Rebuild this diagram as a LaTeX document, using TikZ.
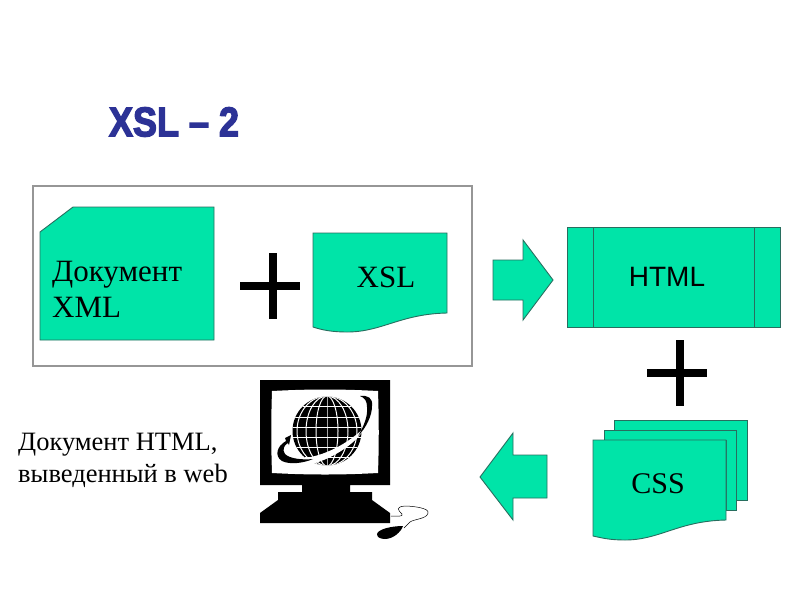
\documentclass[tikz,border=0pt]{standalone}
\usepackage{fontspec}
\setmainfont{Liberation Serif}
\newfontfamily\arialfont{Liberation Sans}
\newfontfamily\titlefont[FakeBold=3.5]{Liberation Sans Bold}
\usepackage{xcolor}
\usetikzlibrary{calc}
\definecolor{shapegreen}{RGB}{0,228,168}
\definecolor{edgegreen}{RGB}{40,110,95}
\definecolor{framegrey}{RGB}{150,150,150}
\definecolor{titleblue}{RGB}{44,50,150}
\tikzset{
  greenshape/.style={fill=shapegreen,draw=edgegreen,line width=0.9pt,line join=miter},
  plusbar/.style={fill=black,draw=none},
  seriflabel/.style={inner sep=0pt,align=left,anchor=north west},
}
\newcommand{\plusmark}[2]{%
  \fill[plusbar] (#1-30,#2-4)--(#1+30,#2-4)--(#1+30,#2+4)--(#1-30,#2+4)--cycle;
  \fill[plusbar] (#1-1,#2-33)--(#1+7,#2-33)--(#1+7,#2+33)--(#1-1,#2+33)--cycle;}
\begin{document}
\begin{tikzpicture}[x=1pt,y=-1pt]
  \useasboundingbox (0,0) rectangle (800,600);
  \fill[white] (0,0) rectangle (800,600);
  % title
  \node[font=\titlefont\fontsize{36}{40}\selectfont,text=titleblue,inner sep=0pt,yscale=1.15,transform shape] (title) at (174,122) {XSL – 2};
  % frame
  \draw[framegrey,line width=1.1pt] (33,186) rectangle (472,366);
  % XML card
  \draw[greenshape] (40,232)--(73,207)--(214,207)--(214,340)--(40,340)--cycle;
  \node[seriflabel,font=\fontsize{31}{36}\selectfont] (xmllabel) at (52,261) {Документ\\XML};
  \plusmark{270}{286}
  % XSL document
  \draw[greenshape] (313,233)--(447,233)--(447,313)
    .. controls (400,314) and (382,332) .. (347,332)
    .. controls (332,332) and (322,330) .. (313,327)--cycle;
  \node[font=\fontsize{31}{36}\selectfont,inner sep=0pt] (xsllabel) at (386,277) {XSL};
  % right arrow
  \draw[greenshape] (493,260)--(523,260)--(523,240)--(553,280)--(523,320)--(523,300)--(493,300)--cycle;
  % HTML box
  \draw[greenshape] (567,227) rectangle (780,327);
  \draw[edgegreen,line width=0.9pt] (593,227)--(593,327);
  \draw[edgegreen,line width=0.9pt] (754,227)--(754,327);
  \node[font=\arialfont\fontsize{28}{32}\selectfont,inner sep=0pt] (htmllabel) at (667,277) {HTML};
  \plusmark{677}{373}
  % CSS stack
  \draw[greenshape] (614,420)--(747,420)--(747,500)--(736,500)--(736,430)--(614,430)--cycle;
  \draw[greenshape] (604,430)--(736,430)--(736,510)--(726,510)--(726,440)--(604,440)--cycle;
  \draw[greenshape] (593,440)--(726,440)--(726,520)
    .. controls (678,521) and (660,540) .. (625,540)
    .. controls (610,540) and (602,538) .. (593,536)--cycle;
  \node[font=\fontsize{30}{34}\selectfont,inner sep=0pt] (csslabel) at (658,484) {CSS};
  % left arrow
  \draw[greenshape] (547,455)--(513,455)--(513,433)--(480,477)--(513,520)--(513,498)--(547,498)--cycle;
  % web text
  \node[seriflabel,font=\fontsize{26.5}{32}\selectfont] (weblabel) at (18,433) {Документ HTML,\\выведенный в web};
  % monitor
  \fill[black] (260,380)--(390,380)--(390,485)--(350,485)--(350,492)--(372,492)--(372,500)
    --(390,513)--(390,523)--(260,523)--(260,513)--(278,500)--(278,492)--(302,492)--(302,485)--(260,485)--cycle;
  \fill[white] (272,391).. controls (310,389) and (340,389) .. (378,391)
    .. controls (379,420) and (379,445) .. (378,473)
    .. controls (340,475) and (310,475) .. (272,473)
    .. controls (271,445) and (271,420) .. (272,391)--cycle;
  % globe
  \fill[black] (327,431) circle (34.5);
  \begin{scope}
    \clip (327,431) circle (34.5);
    \foreach \w in {0,11,21,30}{
      \draw[white,line width=1pt] (327,431) ellipse ({\w} and 35);}
    \foreach \h in {-25,-14,-4,6,16,26}{
      \draw[white,line width=1pt] (290,431+\h)--(364,431+\h);}
  \end{scope}
  % orbit
  \fill[white] (296,459).. controls (320,458) and (345,446) .. (364,428)
    .. controls (360,440) and (335,458) .. (312,464).. controls (306,465) and (300,463) .. (296,459)--cycle;
  \fill[black] (291,435)--(285,438)--(286,441).. controls (277,446) and (274,456) .. (282,461)
    .. controls (290,465) and (304,463) .. (313,459)
    .. controls (303,460) and (290,459) .. (285,454)
    .. controls (282,450) and (284,445) .. (288,443)--(289,445)--cycle;
  \fill[black] (360,396).. controls (368,395) and (373,398) .. (372,406)
    .. controls (372,416) and (366,428) .. (358,436)
    .. controls (364,426) and (368,416) .. (367,407)
    .. controls (367,401) and (365,398) .. (360,396)--cycle;
  % mouse
  \draw[black,line width=0.5pt] (391,516).. controls (396,516) and (404,517) .. (402,514)
    .. controls (398,510) and (395,507) .. (405,506)
    .. controls (412,506) and (430,508) .. (428,513)
    .. controls (427,519) and (414,519) .. (410,522)--(404,528);
  \fill[black] (377,534).. controls (378,529) and (392,526) .. (403,526)
    .. controls (401,532) and (393,539) .. (385,539)
    .. controls (380,539) and (377,537) .. (377,534)--cycle;
\end{tikzpicture}
\end{document}
